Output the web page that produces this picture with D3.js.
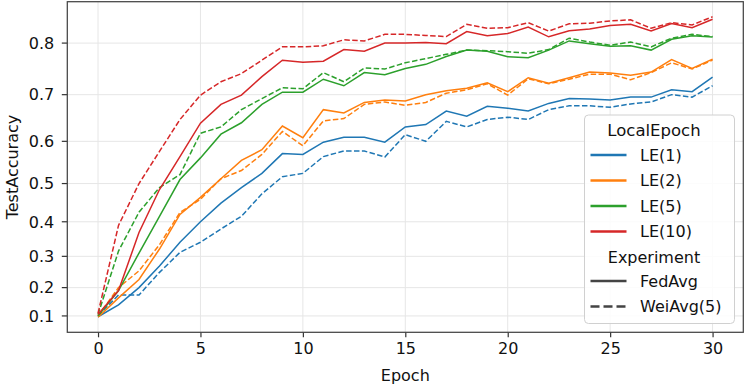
<!DOCTYPE html>
<html>
<head>
<meta charset="utf-8">
<script src="https://cdn.jsdelivr.net/npm/d3@7"></script>
<style>
  body { margin: 0; background: #fff; }
  svg { font-family: "DejaVu Sans", sans-serif; }
</style>
</head>
<body>
<svg id="chart" width="747" height="386"></svg>
<script>
const epochs = d3.range(0, 31);

const fedAvgLE1 = [0.097, 0.14, 0.2, 0.27, 0.342, 0.4, 0.45, 0.49, 0.525, 0.572, 0.57, 0.598, 0.609, 0.609, 0.598, 0.632, 0.637, 0.666, 0.655, 0.676, 0.672, 0.666, 0.682, 0.692, 0.691, 0.689, 0.695, 0.695, 0.71, 0.706, 0.735];
const weiAvgLE1 = [0.1, 0.175, 0.175, 0.25, 0.312, 0.342, 0.38, 0.415, 0.474, 0.517, 0.525, 0.565, 0.578, 0.578, 0.564, 0.615, 0.6, 0.644, 0.632, 0.648, 0.653, 0.648, 0.669, 0.677, 0.677, 0.674, 0.681, 0.685, 0.7, 0.695, 0.718];
const fedAvgLE2 = [0.095, 0.165, 0.227, 0.322, 0.42, 0.465, 0.512, 0.556, 0.581, 0.634, 0.608, 0.669, 0.662, 0.684, 0.689, 0.687, 0.7, 0.708, 0.713, 0.724, 0.706, 0.734, 0.723, 0.734, 0.745, 0.743, 0.739, 0.745, 0.769, 0.752, 0.77];
const weiAvgLE2 = [0.1, 0.2, 0.255, 0.335, 0.425, 0.46, 0.512, 0.532, 0.57, 0.622, 0.59, 0.645, 0.65, 0.68, 0.685, 0.678, 0.684, 0.703, 0.71, 0.722, 0.699, 0.732, 0.722, 0.731, 0.741, 0.741, 0.73, 0.744, 0.763, 0.751, 0.768];
const fedAvgLE5 = [0.1, 0.19, 0.31, 0.415, 0.51, 0.562, 0.616, 0.641, 0.68, 0.705, 0.705, 0.731, 0.718, 0.744, 0.74, 0.752, 0.76, 0.775, 0.787, 0.785, 0.7745, 0.7725, 0.787, 0.804, 0.799, 0.794, 0.795, 0.787, 0.807, 0.8135, 0.811];
const weiAvgLE5 = [0.105, 0.316, 0.426, 0.49, 0.522, 0.618, 0.632, 0.669, 0.692, 0.714, 0.712, 0.744, 0.726, 0.753, 0.751, 0.763, 0.771, 0.779, 0.787, 0.786, 0.784, 0.781, 0.788, 0.809, 0.802, 0.796, 0.802, 0.793, 0.809, 0.816, 0.812];
const fedAvgLE10 = [0.105, 0.19, 0.37, 0.485, 0.565, 0.64, 0.68, 0.699, 0.736, 0.768, 0.764, 0.766, 0.788, 0.785, 0.8, 0.8, 0.801, 0.799, 0.821, 0.8135, 0.8175, 0.829, 0.8115, 0.8225, 0.8255, 0.832, 0.834, 0.822, 0.8355, 0.828, 0.843];
const weiAvgLE10 = [0.11, 0.39, 0.5, 0.577, 0.648, 0.699, 0.726, 0.742, 0.768, 0.793, 0.793, 0.795, 0.806, 0.804, 0.816, 0.816, 0.814, 0.812, 0.834, 0.827, 0.828, 0.837, 0.822, 0.835, 0.836, 0.84, 0.842, 0.827, 0.837, 0.833, 0.8475];

const localEpochs = ["LE(1)", "LE(2)", "LE(5)", "LE(10)"];
const experiments = ["FedAvg", "WeiAvg(5)"];
const colors = ["#1f77b4", "#ff7f0e", "#2ca02c", "#d62728"];
const xTicks = [0, 5, 10, 15, 20, 25, 30];
const yTicks = [0.1, 0.2, 0.3, 0.4, 0.5, 0.6, 0.7, 0.8];

const series = [
  { le: 0, exp: 0, values: fedAvgLE1 },
  { le: 0, exp: 1, values: weiAvgLE1 },
  { le: 1, exp: 0, values: fedAvgLE2 },
  { le: 1, exp: 1, values: weiAvgLE2 },
  { le: 2, exp: 0, values: fedAvgLE5 },
  { le: 2, exp: 1, values: weiAvgLE5 },
  { le: 3, exp: 0, values: fedAvgLE10 },
  { le: 3, exp: 1, values: weiAvgLE10 }
];

const svg = d3.select("#chart");
const margin = { top: 1.7, right: 3.7, bottom: 53.7, left: 67.3 };
const width = 747 - margin.left - margin.right;
const height = 386 - margin.top - margin.bottom;

const g = svg.append("g").attr("transform", `translate(${margin.left},${margin.top})`);

const x = d3.scaleLinear().domain([-1.5, 31.5]).range([0, width]);

// y axis is drawn on an exp() scale, padded 5% like matplotlib
const allVals = series.flatMap(s => s.values);
const eMin = Math.exp(d3.min(allVals)), eMax = Math.exp(d3.max(allVals));
const pad = (eMax - eMin) * 0.05;
const yLin = d3.scaleLinear().domain([eMin - pad, eMax + pad]).range([height, 0]);
const y = v => yLin(Math.exp(v));

// grid
g.append("g")
  .selectAll("line")
  .data(xTicks)
  .enter()
  .append("line")
  .attr("x1", d => x(d)).attr("x2", d => x(d))
  .attr("y1", 0).attr("y2", height)
  .attr("stroke", "#e6e6e6").attr("stroke-width", 1);

g.append("g")
  .selectAll("line")
  .data(yTicks)
  .enter()
  .append("line")
  .attr("x1", 0).attr("x2", width)
  .attr("y1", d => y(d)).attr("y2", d => y(d))
  .attr("stroke", "#e6e6e6").attr("stroke-width", 1);

// lines
const line = d3.line()
  .x((d, i) => x(epochs[i]))
  .y(d => y(d));

g.append("g")
  .selectAll("path")
  .data(series)
  .enter()
  .append("path")
  .attr("d", d => line(d.values))
  .attr("fill", "none")
  .attr("stroke", d => colors[d.le])
  .attr("stroke-width", 1.5)
  .attr("stroke-dasharray", d => (d.exp === 1 ? "5.5,2.4" : null));

// x axis
const xAxis = g.append("g")
  .attr("transform", `translate(0,${height})`)
  .call(d3.axisBottom(x).tickValues(xTicks).tickSize(5).tickPadding(5));
xAxis.select(".domain").remove();
xAxis.selectAll(".tick line").attr("stroke", "#333").attr("stroke-width", 1.2);
xAxis.selectAll(".tick text")
  .attr("font-size", 16)
  .attr("fill", "#111")
  .attr("font-family", "DejaVu Sans");

// y axis (ticks placed by hand because the scale is exp-transformed)
const yAxisG = g.append("g");
yAxisG.selectAll("line")
  .data(yTicks)
  .enter()
  .append("line")
  .attr("x1", -5.5).attr("x2", 0)
  .attr("y1", d => y(d)).attr("y2", d => y(d))
  .attr("stroke", "#333").attr("stroke-width", 1.2);
yAxisG.selectAll("text")
  .data(yTicks)
  .enter()
  .append("text")
  .attr("x", -13)
  .attr("y", d => y(d))
  .attr("dy", "0.36em")
  .attr("text-anchor", "end")
  .attr("font-size", 16)
  .attr("fill", "#111")
  .text(d => d3.format(".1f")(d));

// frame
g.append("rect")
  .attr("width", width).attr("height", height)
  .attr("fill", "none")
  .attr("stroke", "#444").attr("stroke-width", 1.25);

// axis labels
svg.append("text")
  .attr("x", margin.left + width / 2)
  .attr("y", 381)
  .attr("text-anchor", "middle")
  .attr("font-size", 16)
  .attr("fill", "#111")
  .text("Epoch");

svg.append("text")
  .attr("transform", `translate(18,${margin.top + height / 2}) rotate(-90)`)
  .attr("text-anchor", "middle")
  .attr("font-size", 16)
  .attr("fill", "#111")
  .text("TestAccuracy");

// legend
const legend = svg.append("g").attr("transform", "translate(584.5,115)");
legend.append("rect")
  .attr("width", 150).attr("height", 208.5)
  .attr("rx", 4)
  .attr("fill", "#fff").attr("fill-opacity", 0.85)
  .attr("stroke", "#d0d0d0").attr("stroke-width", 1);

legend.append("text")
  .attr("x", 69.5).attr("y", 21)
  .attr("text-anchor", "middle")
  .attr("font-size", 16.5)
  .attr("fill", "#111")
  .text("LocalEpoch");

const leRows = legend.selectAll(".le")
  .data(localEpochs)
  .enter()
  .append("g")
  .attr("transform", (d, i) => `translate(0,${40 + i * 25.5})`);
leRows.append("line")
  .attr("x1", 6).attr("x2", 42)
  .attr("stroke", (d, i) => colors[i])
  .attr("stroke-width", 2.5);
leRows.append("text")
  .attr("x", 55.5).attr("dy", "0.36em")
  .attr("font-size", 16)
  .attr("fill", "#111")
  .text(d => d);

legend.append("text")
  .attr("x", 69.5).attr("y", 148)
  .attr("text-anchor", "middle")
  .attr("font-size", 16)
  .attr("fill", "#111")
  .text("Experiment");

const exRows = legend.selectAll(".ex")
  .data(experiments)
  .enter()
  .append("g")
  .attr("transform", (d, i) => `translate(0,${166 + i * 25.5})`);
exRows.append("line")
  .attr("x1", 6).attr("x2", 42)
  .attr("stroke", "#444")
  .attr("stroke-width", 2.5)
  .attr("stroke-dasharray", (d, i) => (i === 1 ? "9,4" : null));
exRows.append("text")
  .attr("x", 55.5).attr("dy", "0.36em")
  .attr("font-size", 16)
  .attr("fill", "#111")
  .text(d => d);
</script>
</body>
</html>
